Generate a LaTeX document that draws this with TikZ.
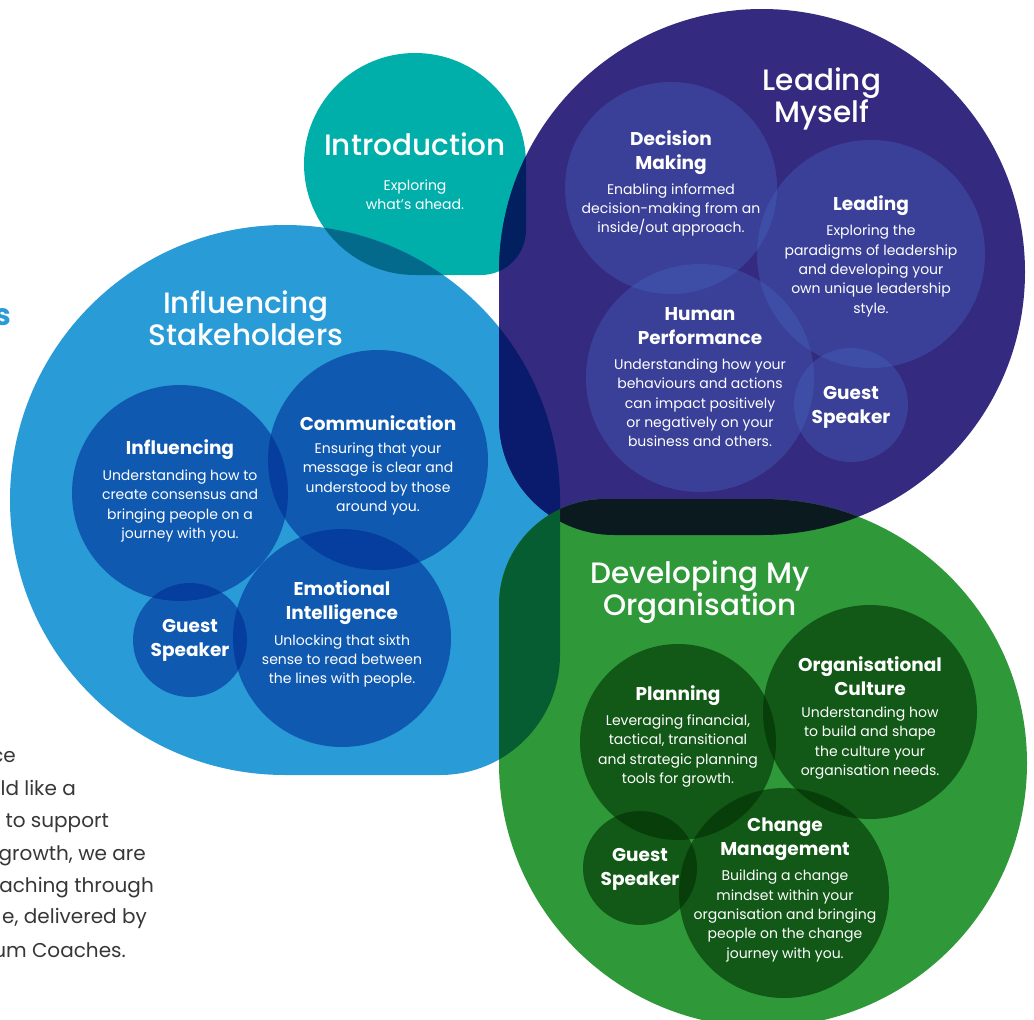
\documentclass[tikz,border=0pt]{standalone}
\usepackage{fontspec}
\setmainfont{Poppins}
\newfontfamily\titlefont{Poppins Medium}
\usepackage{tikz}

\definecolor{introteal}{RGB}{0,174,170}
\definecolor{selfpurple}{RGB}{52,43,128}
\definecolor{stakeblue}{RGB}{41,155,215}
\definecolor{orggreen}{RGB}{47,153,58}
\definecolor{tealblue}{RGB}{3,106,140}
\definecolor{tealpurple}{RGB}{2,32,95}
\definecolor{bluepurple}{RGB}{10,27,110}
\definecolor{greenpurple}{RGB}{10,26,30}
\definecolor{bluegreen}{RGB}{7,93,50}
\definecolor{bluedotc}{RGB}{0,45,150}
\definecolor{purpledotc}{RGB}{72,105,195}
\definecolor{greendotc}{RGB}{0,45,0}
\definecolor{textgrey}{RGB}{55,55,55}

% the four blobs: a circle with one corner squared off
\def\tealblob{(526,164) arc[start angle=0,end angle=-270,radius=111] -- (481,275) arc[start angle=90,end angle=0,radius=45] -- cycle}
\def\purpleblob{(499,272) arc[start angle=180,end angle=450,radius=263] -- (614,535) arc[start angle=90,end angle=180,radius=115] -- cycle}
\def\blueblob{(560,500) arc[start angle=0,end angle=-270,radius=275] -- (440,775) arc[start angle=90,end angle=0,radius=120] -- cycle}
\def\greenblob{(763,499) arc[start angle=270,end angle=540,radius=264] -- (499,605) arc[start angle=180,end angle=270,radius=106] -- cycle}

\tikzset{
  bigtitle/.style={text=white, align=center, font=\titlefont\fontsize{29.5}{32}\selectfont},
  subhead/.style={text=white, align=center, font=\bfseries\fontsize{18.5}{24}\selectfont},
  bodytext/.style={text=white, align=center, font=\fontsize{14}{19.3}\selectfont},
  bluedot/.style={fill=bluedotc, fill opacity=.6},
  purpledot/.style={fill=purpledotc, fill opacity=.35},
  greendot/.style={fill=greendotc, fill opacity=.6},
  sidetext/.style={text=textgrey, anchor=base east, inner sep=0pt, font=\fontsize{20}{32}\selectfont}
}

\begin{document}
\begin{tikzpicture}[x=1pt,y=-1pt]
\useasboundingbox (0,0) rectangle (1034,1020);
\fill[white] (0,0) rectangle (1034,1020);

\fill[introteal] \tealblob;
\fill[stakeblue] \blueblob;
\fill[selfpurple] \purpleblob;
\fill[orggreen] \greenblob;
% overlaps
\begin{scope}
\clip \tealblob;
\fill[tealblue] \blueblob;
\fill[tealpurple] \purpleblob;
\end{scope}
\begin{scope}
\clip \purpleblob;
\fill[bluepurple] \blueblob;
\fill[greenpurple] \greenblob;
\end{scope}
\begin{scope}
\clip \greenblob;
\fill[bluegreen] \blueblob;
\end{scope}

% inner circles
\fill[bluedot] (180,493) circle[radius=108];
\fill[bluedot] (378,460) circle[radius=110];
\fill[bluedot] (342,638) circle[radius=109];
\fill[bluedot] (190,640) circle[radius=57];
\fill[purpledot] (671,188) circle[radius=106];
\fill[purpledot] (871,254) circle[radius=114];
\fill[purpledot] (700,378) circle[radius=114];
\fill[purpledot] (851,405) circle[radius=57];
\fill[greendot] (678,742) circle[radius=98];
\fill[greendot] (870,712) circle[radius=107];
\fill[greendot] (784,893) circle[radius=105];
\fill[greendot] (640,868) circle[radius=57];

% titles
\node[bigtitle] (intro) at (415,144) {Introduction};
\node[bodytext] (intro-body) at (415,195) {Exploring\\what's ahead.};
\node[bigtitle] (myself) at (822,99) {Leading\\Myself};
\node[bigtitle] (stakeholders) at (246,318) {Influencing\\Stakeholders};
\node[bigtitle] (organisation) at (700,592) {Developing My\\Organisation};

% leading myself
\node[subhead] (decision) at (671,153) {Decision\\Making};
\node[bodytext] (decision-body) at (671,210) {Enabling informed\\decision-making from an\\inside/out approach.};
\node[subhead] (leading) at (871,206) {Leading};
\node[bodytext] (leading-body) at (871,271) {Exploring the\\paradigms of leadership\\and developing your\\own unique leadership\\style.};
\node[subhead] (human) at (700,326) {Human\\Performance};
\node[bodytext] (human-body) at (700,403) {Understanding how your\\behaviours and actions\\can impact positively\\or negatively on your\\business and others.};
\node[subhead] (guest-self) at (851,407) {Guest\\Speaker};

% influencing stakeholders
\node[subhead] (communication) at (378,423) {Communication};
\node[bodytext] (communication-body) at (378,479) {Ensuring that your\\message is clear and\\understood by those\\around you.};
\node[subhead] (influencing) at (180,450) {Influencing};
\node[bodytext] (influencing-body) at (180,506) {Understanding how to\\create consensus and\\bringing people on a\\journey with you.};
\node[subhead] (emotional) at (342,603) {Emotional\\Intelligence};
\node[bodytext] (emotional-body) at (342,661) {Unlocking that sixth\\sense to read between\\the lines with people.};
\node[subhead] (guest-stake) at (190,640) {Guest\\Speaker};

% developing my organisation
\node[subhead] (planning) at (678,696) {Planning};
\node[bodytext] (planning-body) at (678,751) {Leveraging financial,\\tactical, transitional\\and strategic planning\\tools for growth.};
\node[subhead] (culture) at (870,676) {Organisational\\Culture};
\node[bodytext] (culture-body) at (870,743) {Understanding how\\to build and shape\\the culture your\\organisation needs.};
\node[subhead] (change) at (785,839) {Change\\Management};
\node[bodytext] (change-body) at (785,916) {Building a change\\mindset within your\\organisation and bringing\\people on the change\\journey with you.};
\node[subhead] (guest-org) at (640,869) {Guest\\Speaker};

% cut-off page text on the left
\node[text=stakeblue, anchor=base east, inner sep=0pt, font=\bfseries\fontsize{30}{30}\selectfont] (cut-s) at (11,325) {s};
\node[sidetext] (line1) at (16,762) {ce};
\node[sidetext] (line2) at (76,795) {ld like a};
\node[sidetext] (line3) at (109,827) {to support};
\node[sidetext] (line4) at (146,860) {growth, we are};
\node[sidetext] (line5) at (154,892) {aching through};
\node[sidetext] (line6) at (147,923) {e, delivered by};
\node[sidetext] (line7) at (126,957) {um Coaches.};
\end{tikzpicture}
\end{document}
